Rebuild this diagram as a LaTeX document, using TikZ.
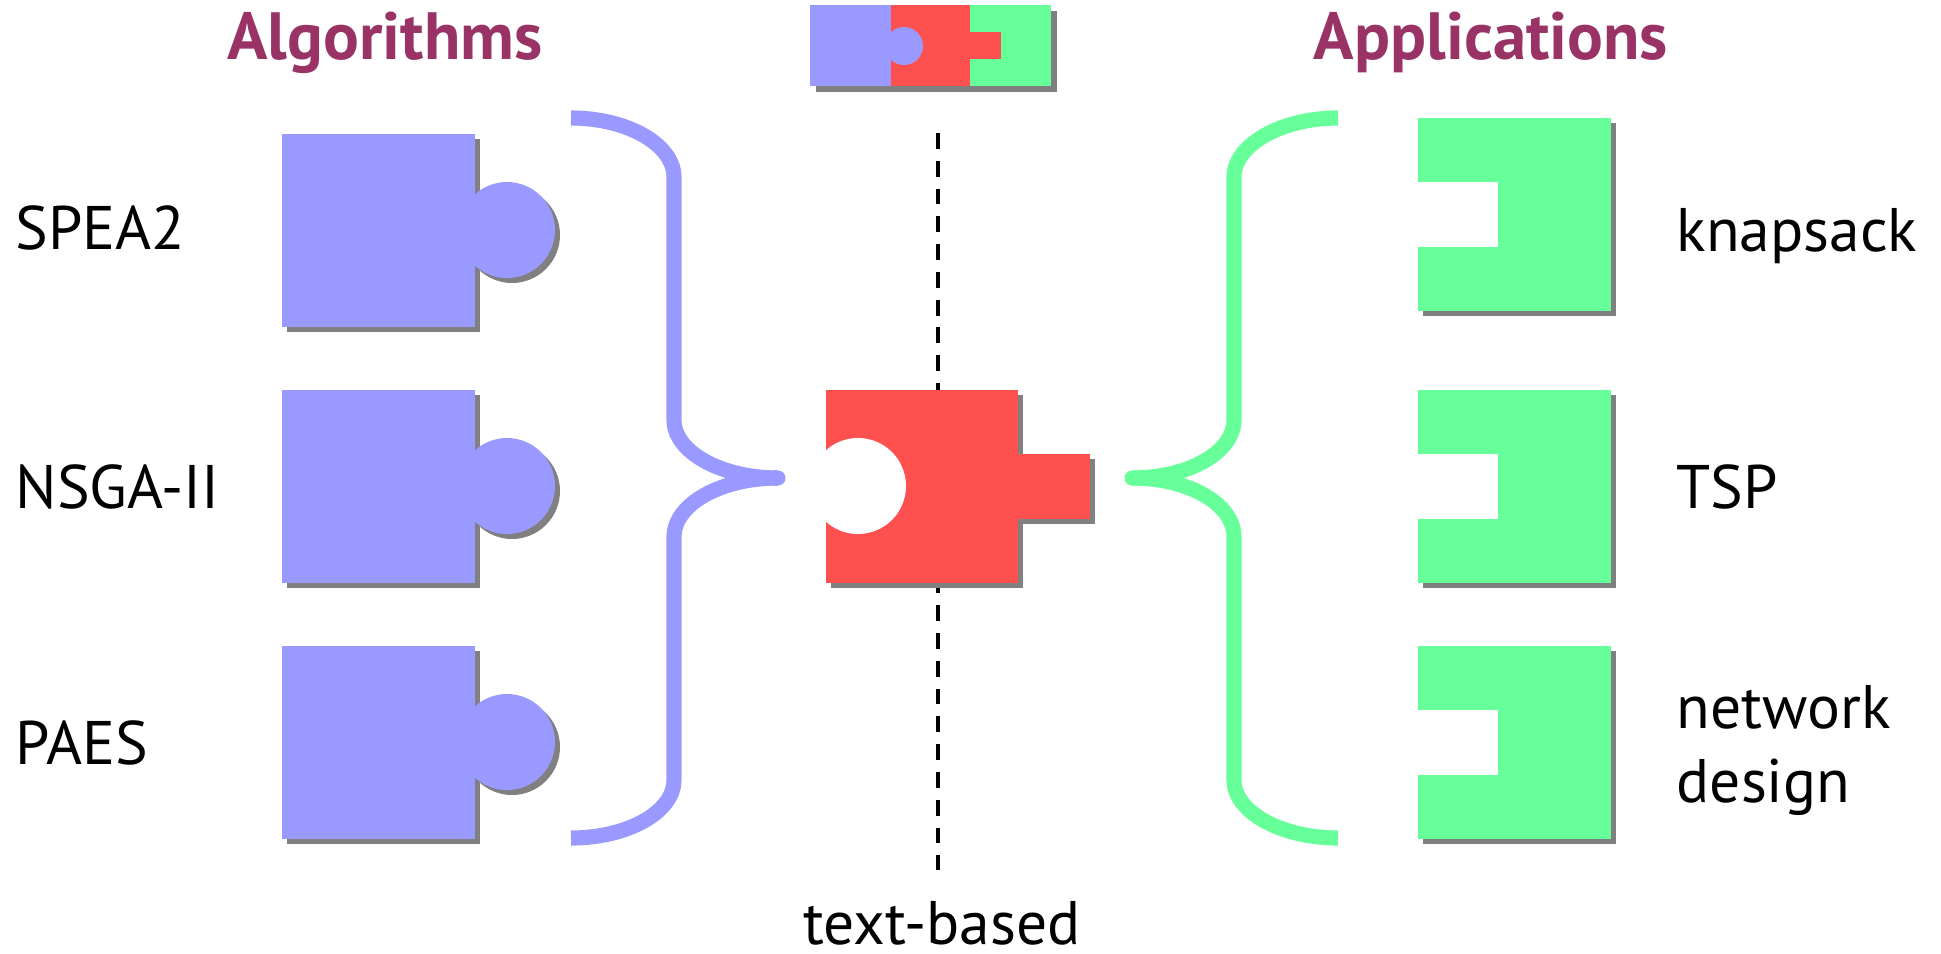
\documentclass[tikz,border=0pt]{standalone}
\usepackage{fontspec}
\setmainfont{PT Sans}
\definecolor{algblue}{HTML}{9999FF}
\definecolor{solred}{HTML}{FF5050}
\definecolor{appgreen}{HTML}{66FF99}
\definecolor{headpurple}{HTML}{993366}
\definecolor{shadowgray}{HTML}{808080}

\begin{document}
\begin{tikzpicture}[
    x=0.01cm, y=-0.01cm,
    label/.style={font=\fontsize{17.5}{21}\selectfont, inner sep=0pt},
    heading/.style={font=\fontsize{19}{22}\selectfont\bfseries, text=headpurple, inner sep=0pt},
    shadow/.style={fill=shadowgray},
    brace/.style={line width=4.3pt},
    axis/.style={line width=1.2pt, dash pattern=on 4.5pt off 3.4pt}
]
\useasboundingbox (0,0) rectangle (1941,954);

\coordinate (axtop) at (938,133);
\coordinate (axbot) at (938,870);
\draw[axis] (axtop) -- (axbot);

% small combined puzzle
\fill[shadow] (816,11) rectangle (1057,92);
\fill[algblue] (810,5) rectangle (891,86);
\fill[solred] (891,5) rectangle (970,86);
\fill[appgreen] (970,5) rectangle (1051,86);
\fill[algblue] (904,46) circle (19);
\fill[solred] (970,32) rectangle (1001,59);

% algorithms
\fill[shadow] (287,139) rectangle (480,332);
\fill[shadow] (512,235) circle (48);
\fill[algblue] (282,134) rectangle (475,327);
\fill[algblue] (507,230) circle (48);

\fill[shadow] (287,395) rectangle (480,588);
\fill[shadow] (512,491) circle (48);
\fill[algblue] (282,390) rectangle (475,583);
\fill[algblue] (507,486) circle (48);

\fill[shadow] (287,651) rectangle (480,844);
\fill[shadow] (512,747) circle (48);
\fill[algblue] (282,646) rectangle (475,839);
\fill[algblue] (507,742) circle (48);

% solver
\fill[shadow] (831,395) rectangle (1023,588);
\fill[shadow] (1023,459) rectangle (1095,524);
\fill[solred] (826,390) rectangle (1018,583);
\fill[solred] (1018,454) rectangle (1090,519);
\fill[white] (858,486) circle (48);

% applications
\fill[shadow] (1423,123) rectangle (1616,316);
\fill[appgreen] (1418,118) rectangle (1611,311);
\fill[white] (1418,182) rectangle (1498,247);

\fill[shadow] (1423,395) rectangle (1616,588);
\fill[appgreen] (1418,390) rectangle (1611,583);
\fill[white] (1418,454) rectangle (1498,519);

\fill[shadow] (1423,651) rectangle (1616,844);
\fill[appgreen] (1418,646) rectangle (1611,839);
\fill[white] (1418,710) rectangle (1498,775);

% braces
\coordinate (algtip) at (778,478);
\coordinate (apptip) at (1132,478);

\draw[brace, algblue] (571,118) .. controls (628,118) and (674,145) .. (674,177) -- (674,420)
    .. controls (674,452) and (721,478) .. (algtip);
\draw[brace, algblue] (algtip) .. controls (721,478) and (674,504) .. (674,537) -- (674,780)
    .. controls (674,812) and (628,838) .. (571,838);
\fill[algblue] (algtip) circle (7.5);

\draw[brace, appgreen] (1338,118) .. controls (1281,118) and (1234,145) .. (1234,177) -- (1234,420)
    .. controls (1234,452) and (1189,478) .. (apptip);
\draw[brace, appgreen] (apptip) .. controls (1189,478) and (1234,504) .. (1234,537) -- (1234,780)
    .. controls (1234,812) and (1281,838) .. (1338,838);
\fill[appgreen] (apptip) circle (7.5);

% texts
\node[heading, anchor=base] (alg) at (385,59) {Algorithms};
\node[heading, anchor=base] (app) at (1491,59) {Applications};

\node[label, anchor=base west] (spea) at (15,249) {SPEA2};
\node[label, anchor=base west] (nsga) at (15,508) {NSGA-II};
\node[label, anchor=base west] (paes) at (15,764) {PAES};

\node[label, anchor=base west] (knap) at (1676,251) {knapsack};
\node[label, anchor=base west] (tsp) at (1676,508) {TSP};
\node[label, anchor=base west, align=left] (netdes) at (1676,802) {network\\design};

\node[label, anchor=base] (textbased) at (942,944) {text-based};
\end{tikzpicture}
\end{document}
